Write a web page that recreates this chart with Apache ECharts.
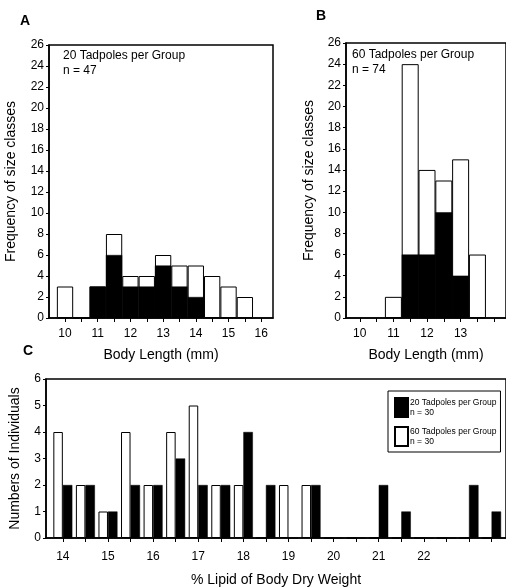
<!DOCTYPE html>
<html>
<head>
<meta charset="utf-8">
<script src="https://cdn.jsdelivr.net/npm/echarts@6/dist/echarts.min.js"></script>
<style>
  html, body { margin: 0; padding: 0; background: #fff; }
  #chart { width: 506px; height: 588px; }
</style>
</head>
<body>
<div id="chart"></div>
<script>
// Panel A: 20 tadpoles per group (white = all, black = filled part)
const lengthsA = [10, 10.5, 11, 11.5, 12, 12.5, 13, 13.5, 14, 14.5, 15, 15.5];
const totalA = [3, 0, 3, 8, 4, 4, 6, 5, 5, 4, 3, 2];
const blackA = [0, 0, 3, 6, 3, 3, 5, 3, 2, 0, 0, 0];
const ticksA = [10, 10.5, 11, 11.5, 12, 12.5, 13, 13.5, 14, 14.5, 15, 15.5, 16];
const labelsA = [10, 11, 12, 13, 14, 15, 16];
const nA = 47;

// Panel B: 60 tadpoles per group
const lengthsB = [11, 11.5, 12, 12.5, 13, 13.5];
const totalB = [2, 24, 14, 13, 15, 6];
const blackB = [0, 6, 6, 10, 4, 0];
const ticksB = [10, 10.5, 11, 11.5, 12, 12.5, 13, 13.5, 14];
const labelsB = [10, 11, 12, 13];
const nB = 74;

// Panel C: % lipid of body dry weight
const lipidBins = [14, 14.5, 15, 15.5, 16, 16.5, 17, 17.5, 18, 18.5, 19, 19.5,
  20, 20.5, 21, 21.5, 22, 22.5, 23, 23.5];
const lipid60 = [4, 2, 1, 4, 2, 4, 5, 2, 2, 0, 2, 2, 0, 0, 0, 0, 0, 0, 0, 0];
const lipid20 = [2, 2, 1, 2, 2, 3, 2, 2, 4, 2, 0, 2, 0, 0, 2, 1, 0, 0, 2, 1];
const labelsC = [14, 15, 16, 17, 18, 19, 20, 21, 22];
const groupNames = ['20 Tadpoles per Group', '60 Tadpoles per Group'];
const nC = [30, 30];

const FONT = 'Liberation Sans, Arial, sans-serif';
const INK = '#000';

function pairs(xs, ys) {
  return xs.map((x, i) => [x, ys[i]]);
}

function xAxis(gridIndex, min, max, ticks, labels, name, gap, labelMargin) {
  return {
    type: 'value', gridIndex, min, max,
    name, nameLocation: 'middle', nameGap: gap,
    nameTextStyle: { fontFamily: FONT, fontSize: 14, color: INK },
    axisLine: { lineStyle: { color: INK, width: 1.5 } },
    axisTick: { show: true, customValues: ticks, length: 4, lineStyle: { color: INK } },
    axisLabel: { customValues: labels, fontFamily: FONT, fontSize: 12, color: INK, margin: labelMargin },
    splitLine: { show: false }
  };
}

function yAxis(gridIndex, max, interval, name, gap) {
  return {
    type: 'value', gridIndex, min: 0, max, interval,
    name, nameLocation: 'middle', nameGap: gap,
    nameTextStyle: { fontFamily: FONT, fontSize: 14, color: INK },
    axisLine: { show: true, lineStyle: { color: INK, width: 1.5 } },
    axisTick: { show: true, length: 3, lineStyle: { color: INK } },
    axisLabel: { fontFamily: FONT, fontSize: 12, color: INK, margin: 5 },
    splitLine: { show: false }
  };
}

const whiteBar = { color: '#fff', borderColor: INK, borderWidth: 1 };
const blackBar = { color: INK, borderColor: INK, borderWidth: 0.5 };

const chart = echarts.init(document.getElementById('chart'), null, { renderer: 'canvas' });

chart.setOption({
  backgroundColor: '#fff',
  animation: false,
  title: [
    { text: 'A', left: 15, top: 9, textStyle: { fontFamily: FONT, fontSize: 14, fontWeight: 'bold', color: INK } },
    { text: 'B', left: 311, top: 4, textStyle: { fontFamily: FONT, fontSize: 14, fontWeight: 'bold', color: INK } },
    { text: 'C', left: 18, top: 339, textStyle: { fontFamily: FONT, fontSize: 14, fontWeight: 'bold', color: INK } }
  ],
  graphic: [
    {
      type: 'text', left: 63, top: 48,
      style: { text: '20 Tadpoles per Group\nn = ' + nA, font: '12px ' + FONT, fill: INK, lineHeight: 15 }
    },
    {
      type: 'text', left: 352, top: 47,
      style: { text: '60 Tadpoles per Group\nn = ' + nB, font: '12px ' + FONT, fill: INK, lineHeight: 15 }
    }
  ],
  legend: {
    data: groupNames,
    orient: 'vertical',
    left: 388, top: 391,
    width: 117,
    padding: [6, 4, 5, 6],
    itemGap: 8,
    itemWidth: 13, itemHeight: 19,
    icon: 'rect',
    borderColor: INK, borderWidth: 1,
    backgroundColor: '#fff',
    formatter: (name) => name + '\nn = ' + nC[groupNames.indexOf(name)],
    textStyle: { fontFamily: FONT, fontSize: 8.5, lineHeight: 10, color: INK, padding: [0, 0, 0, -3] }
  },
  grid: [
    { left: 49, top: 45, width: 224, height: 273, show: true, borderColor: INK, borderWidth: 1.5 },
    { left: 346, top: 43, width: 162, height: 275, show: true, borderColor: INK, borderWidth: 1.5 },
    { left: 43, top: 379, width: 465, height: 163, show: true, borderColor: INK, borderWidth: 1.5 }
  ],
  xAxis: [
    xAxis(0, 9.51, 16.36, ticksA, labelsA, 'Body Length (mm)', 30, 10),
    xAxis(1, 9.59, 14.35, ticksB, labelsB, 'Body Length (mm)', 30, 10),
    xAxis(2, 13.627, 23.82, lipidBins, labelsC, '% Lipid of Body Dry Weight', 35, 13)
  ],
  yAxis: [
    yAxis(0, 26, 2, 'Frequency of size classes', 31),
    yAxis(1, 26, 2, 'Frequency of size classes', 30),
    yAxis(2, 6, 1, 'Numbers of Individuals', 24)
  ],
  series: [
    { type: 'bar', name: 'A all', xAxisIndex: 0, yAxisIndex: 0, barWidth: 16.3, itemStyle: whiteBar, data: pairs(lengthsA, totalA) },
    { type: 'bar', name: 'A black', xAxisIndex: 0, yAxisIndex: 0, barWidth: 16.3, barGap: '-100%', itemStyle: blackBar, data: pairs(lengthsA, blackA) },
    { type: 'bar', name: 'B all', xAxisIndex: 1, yAxisIndex: 1, barWidth: 17, itemStyle: whiteBar, data: pairs(lengthsB, totalB) },
    { type: 'bar', name: 'B black', xAxisIndex: 1, yAxisIndex: 1, barWidth: 17, barGap: '-100%', itemStyle: blackBar, data: pairs(lengthsB, blackB) },
    { type: 'bar', name: groupNames[1], xAxisIndex: 2, yAxisIndex: 2, barWidth: 9.5, barGap: '0%', itemStyle: whiteBar, data: pairs(lipidBins, lipid60) },
    { type: 'bar', name: groupNames[0], xAxisIndex: 2, yAxisIndex: 2, barWidth: 9.5, barGap: '0%', itemStyle: blackBar, data: pairs(lipidBins, lipid20) }
  ]
});
</script>
</body>
</html>
